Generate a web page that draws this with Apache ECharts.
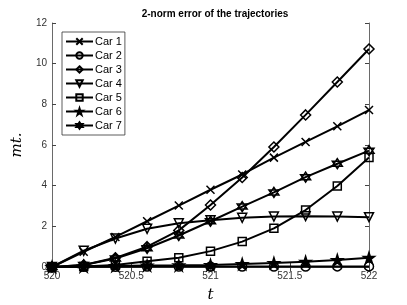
<!DOCTYPE html>
<html><head><meta charset="utf-8">
<script src="https://cdn.jsdelivr.net/npm/echarts@6/dist/echarts.min.js"></script>
<style>html,body{margin:0;padding:0;background:#fff}#c{width:407px;height:305px}</style>
</head><body><div id="c"></div>
<script>
var tValues = [520, 520.2, 520.4, 520.6, 520.8, 521, 521.2, 521.4, 521.6, 521.8, 522];
var seriesNames = ['Car 1','Car 2','Car 3','Car 4','Car 5','Car 6','Car 7'];
var car1 = [0, 0.75, 1.48, 2.25, 3.02, 3.8, 4.55, 5.38, 6.15, 6.92, 7.72];
var car2 = [0, 0.01, 0.01, 0.02, 0.02, 0.02, 0.02, 0.02, 0.02, 0.03, 0.03];
var car3 = [0, 0.1, 0.45, 1.0, 1.8, 3.05, 4.4, 5.9, 7.48, 9.1, 10.72];
var car4 = [0, 0.8, 1.4, 1.88, 2.15, 2.3, 2.42, 2.48, 2.5, 2.48, 2.45];
var car5 = [0, 0.02, 0.1, 0.28, 0.45, 0.78, 1.25, 1.9, 2.8, 3.98, 5.38];
var car6 = [0, 0.02, 0.05, 0.07, 0.08, 0.1, 0.15, 0.2, 0.26, 0.34, 0.45];
var car7 = [0, 0.1, 0.42, 0.92, 1.55, 2.25, 2.97, 3.67, 4.42, 5.08, 5.72];
var xTicks = [520, 520.5, 521, 521.5, 522];
var yTicks = [0, 2, 4, 6, 8, 10, 12];

var allData = [car1, car2, car3, car4, car5, car6, car7];
var symbols = [
  'path://M0,0L10,10M10,0L0,10',
  'circle',
  'diamond',
  'path://M0,0L10,0L5,9Z',
  'rect',
  'path://M5,0L6.12,3.45L9.76,3.45L6.82,5.59L7.94,9.05L5,6.91L2.06,9.05L3.18,5.59L0.24,3.45L3.88,3.45Z',
  'path://M5,0L9.33,7.5L0.67,7.5Z M5,10L0.67,2.5L9.33,2.5Z'
];
var sizes = [8, 9, 10, 9, 8, 11, 10];
var fills = ['rgba(0,0,0,0)','rgba(0,0,0,0)','rgba(0,0,0,0)','rgba(0,0,0,0)','rgba(0,0,0,0)','#000','rgba(0,0,0,0)'];

var series = seriesNames.map(function(n, i){
  return {
    name: n, type: 'line',
    data: tValues.map(function(t, j){ return [t, allData[i][j]]; }),
    symbol: symbols[i], symbolSize: sizes[i], showAllSymbol: true,
    lineStyle: {color: '#000', width: 2},
    itemStyle: {color: fills[i], borderColor: '#000', borderWidth: 1.5},
    emphasis: {disabled: true}, animation: false, z: 10 - i
  };
});

var axisCol = '#444';
var chart = echarts.init(document.getElementById('c'));
chart.setOption({
  animation: false,
  title: {text: '2-norm error of the trajectories', left: 210, top: 4, textAlign: 'center',
    textStyle: {fontFamily: 'Liberation Sans', fontSize: 10, fontWeight: 'bold', color: '#000'}},
  grid: {left: 52, right: 38, top: 23, bottom: 38, outerBoundsMode: 'none', containLabel: false},
  legend: {
    left: 62, top: 32, orient: 'vertical', itemGap: 1, itemWidth: 27, itemHeight: 8,
    padding: [3, 3, 3, 3], borderColor: '#333', borderWidth: 0.8, backgroundColor: '#fff',
    textStyle: {fontFamily: 'Liberation Sans', fontSize: 11, color: '#000', padding: [0,0,0,-3], lineHeight: 13},
    data: seriesNames
  },
  xAxis: [{
    type: 'value', min: 520, max: 522, interval: 0.5,
    name: 't', nameLocation: 'middle', nameGap: 21,
    nameTextStyle: {fontFamily: 'DejaVu Serif', fontStyle: 'italic', fontSize: 15, color: '#000'},
    axisLine: {lineStyle: {color: axisCol, width: 0.8}},
    axisTick: {inside: true, length: 4, lineStyle: {color: axisCol}},
    axisLabel: {fontFamily: 'Liberation Sans', fontSize: 10, color: '#333', margin: 4,
      customValues: xTicks},
    splitLine: {show: false}
  }, {
    type: 'value', position: 'top', min: 520, max: 522, interval: 0.5,
    axisLine: {show: true, lineStyle: {color: axisCol, width: 0.8}},
    axisTick: {inside: true, length: 4, lineStyle: {color: axisCol}},
    axisLabel: {show: false}, splitLine: {show: false}
  }],
  yAxis: [{
    type: 'value', min: 0, max: 12, interval: 2,
    name: 'mt.', nameLocation: 'middle', nameGap: 23,
    nameTextStyle: {fontFamily: 'DejaVu Serif', fontStyle: 'italic', fontSize: 15, color: '#000'},
    axisLine: {show: true, lineStyle: {color: axisCol, width: 0.8}},
    axisTick: {show: true, inside: true, length: 4, lineStyle: {color: axisCol}},
    axisLabel: {fontFamily: 'Liberation Sans', fontSize: 10, color: '#333', margin: 5},
    splitLine: {show: false}
  }, {
    type: 'value', position: 'right', min: 0, max: 12, interval: 2,
    axisLine: {show: true, lineStyle: {color: axisCol, width: 0.8}},
    axisTick: {show: true, inside: true, length: 4, lineStyle: {color: axisCol}},
    axisLabel: {show: false}, splitLine: {show: false}
  }],
  series: series
});
</script></body></html>
